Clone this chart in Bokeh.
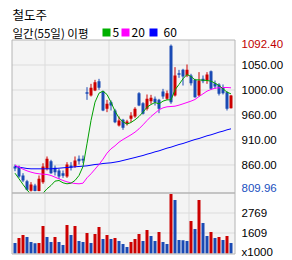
import numpy as np
from bokeh.plotting import figure
from bokeh.models import Range1d, ColumnDataSource
from bokeh.core.properties import value
from bokeh.embed import file_html
from bokeh.resources import INLINE

# ---------------- data ----------------
title_text = "철도주"
legend_prefix = "일간(55일) 이평"
ma_names = ["5", "20", "60"]

opens = [858.0, 856.8, 840.8, 829.9, 811.5, 821.6, 811.2, 828.0, 853.6, 868.3,
         855.5, 850.4, 845.2, 838.8, 859.9, 858.0, 872.8, 872.8, 1000.8, 994.4,
         1004.0, 1022.0, 1002.8, 968.8, 981.6, 965.6, 936.8, 947.7, 940.0, 949.6,
         954.1, 998.9, 979.7, 968.8, 983.6, 988.0, 986.1, 1002.1, 988.0, 1090.0,
         994.4, 1037.3, 1043.7, 1032.9, 1032.9, 1024.5, 994.4, 1026.4, 1023.2, 1041.2,
         1018.1, 1015.6, 1010.4, 1000.8, 970.1]
highs = [861.9, 859.9, 845.2, 832.4, 828.0, 824.8, 840.8, 864.4, 877.3, 870.9,
         859.9, 853.6, 850.4, 866.4, 866.4, 877.3, 879.2, 879.2, 1010.4, 1016.8,
         1024.5, 1026.4, 1004.0, 986.1, 984.8, 968.8, 954.1, 949.6, 947.7, 962.4,
         972.0, 1000.8, 981.6, 996.4, 995.7, 992.5, 988.0, 1007.2, 1004.0, 1092.4,
         1048.9, 1043.7, 1045.7, 1054.0, 1036.1, 1026.4, 1039.3, 1032.9, 1039.3, 1042.5,
         1023.2, 1018.1, 1015.6, 1002.8, 995.5]
lows = [849.1, 836.3, 828.0, 812.0, 809.96, 810.3, 810.5, 824.8, 850.4, 844.0,
        840.8, 834.4, 836.3, 836.3, 850.4, 855.5, 861.9, 864.4, 986.1, 992.5,
        1002.8, 1005.3, 964.3, 962.4, 965.6, 941.3, 934.9, 928.5, 936.8, 943.2,
        951.5, 973.9, 957.9, 965.6, 978.4, 975.2, 960.5, 988.0, 986.1, 978.4,
        992.5, 1028.4, 1013.6, 1029.7, 1013.6, 990.0, 992.5, 1018.1, 1016.8, 1005.3,
        1007.2, 994.4, 996.4, 965.6, 969.5]
closes = [854.2, 838.8, 831.2, 813.2, 823.5, 811.0, 834.4, 858.0, 872.8, 845.2,
          847.2, 838.8, 840.1, 861.9, 855.5, 869.6, 868.3, 869.6, 997.6, 1009.2,
          1020.0, 1009.2, 965.6, 978.4, 975.2, 943.2, 946.4, 932.3, 944.5, 956.0,
          968.8, 975.2, 959.2, 988.0, 990.0, 981.6, 968.8, 992.5, 998.9, 981.6,
          1032.9, 1034.1, 1030.9, 1043.7, 1018.1, 991.2, 1023.2, 1022.0, 1034.8, 1007.2,
          1011.7, 997.6, 998.9, 968.8, 994.4]
volumes = [1029, 1319, 1493, 1377, 1087, 1015, 1035, 2015, 1377, 1087,
           1377, 1087, 913, 2073, 1493, 2015, 1145, 1087, 1609, 1029,
           1551, 1957, 1261, 1493, 1261, 1319, 1145, 971, 797, 1087,
           1261, 1551, 1145, 1783, 1435, 1145, 1667, 1087, 971, 3871,
           3523, 1203, 1195, 1145, 2305, 1841, 3523, 2189, 1435, 1667,
           1319, 1377, 1203, 1435, 1029]
ma5 = [845.2, 834.4, 823.5, 813.2, 804.3, 800.4, 801.7, 806.8, 815.2, 821.6,
       829.9, 831.2, 826.7, 824.8, 826.0, 831.2, 840.8, 858.1, 901.6, 946.4,
       981.6, 998.9, 1002.8, 996.4, 981.6, 964.3, 951.5, 943.9, 939.4, 942.6,
       947.7, 954.1, 962.4, 972.0, 977.1, 981.0, 978.4, 983.6, 986.1, 986.1,
       1005.3, 1015.6, 1026.5, 1034.8, 1030.9, 1024.5, 1024.5, 1023.9, 1023.2, 1022.0,
       1018.1, 1013.6, 1007.2, 1000.8, 997.6]
ma20 = [860.6, 856.8, 852.9, 849.7, 847.2, 845.2, 844.0, 843.3, 842.7, 840.8,
        837.6, 834.4, 831.2, 828.6, 826.7, 825.4, 824.8, 826.0, 836.3, 844.0,
        852.9, 861.9, 872.1, 883.7, 892.0, 897.8, 904.8, 909.9, 914.4, 918.9,
        924.0, 930.4, 938.1, 946.4, 954.1, 960.5, 966.9, 970.7, 972.7, 973.3,
        973.9, 975.9, 978.4, 981.0, 983.6, 986.8, 992.5, 997.6, 1002.8, 1006.0,
        1008.5, 1009.2, 1009.8, 1009.8, 1009.2]
ma60 = [858.1, 856.8, 855.5, 854.2, 853.6, 853.6, 853.6, 853.6, 853.6, 853.6,
        854.2, 854.8, 855.5, 856.1, 856.8, 857.4, 858.1, 858.7, 859.3, 860.6,
        861.9, 862.5, 863.8, 864.5, 865.1, 866.4, 867.7, 869.6, 871.5, 873.4,
        875.3, 877.3, 879.2, 881.7, 883.7, 886.2, 888.1, 890.7, 893.3, 895.2,
        897.8, 900.3, 902.2, 904.8, 907.4, 909.9, 911.8, 914.4, 917.0, 918.9,
        921.4, 924.0, 925.9, 928.5, 930.4]
price_grid = [1053.0, 1005.0, 957.0, 909.0, 861.0]
price_tick_labels = ["1050.00", "1000.00", "960.00", "910.00", "860.00"]
volume_ticks = [2769, 1609]
volume_unit = "x1000"
month_breaks = [7.5, 23.5, 43.5]

# ---------------- layout constants (page pixels) ----------------
RED = "#cc0000"
BLUE = "#1a4ab4"
GRID = "#dcdcdc"
BG = "#f4f4f4"
OUTLINE = "#b4b4b4"
W, H = 292, 260
XPX = 4.0                       # pixels per candle slot
X_PAGE0 = -0.875 - 11 / XPX     # data x at page x = 0
P_TOP, PPX = 1102.0, 1.92092    # price at page y = 39, price per pixel
V_REF, V_REF_PY, VPX = 2769.0, 212.5, 58.0

def px_x(px):
    return X_PAGE0 + px / XPX

def px_price(py):
    return P_TOP - (py - 39) * PPX

def px_vol(py):
    return V_REF - (py - V_REF_PY) * VPX

PL, PR = px_x(11.5), px_x(234.5)
PT, PB = 39.5, 192.5
VB = 253.5

n = len(closes)
xs = np.arange(n)
o = np.array(opens); c = np.array(closes)
cand_col = [RED if cc >= oo else BLUE for oo, cc in zip(opens, closes)]
src = ColumnDataSource(dict(x=xs, h=highs, l=lows, top=np.maximum(o, c), bot=np.minimum(o, c),
                            col=cand_col))
vcol = [BLUE] + [RED if volumes[i] > volumes[i - 1] else BLUE for i in range(1, n)]
vsrc = ColumnDataSource(dict(x=xs, v=volumes, col=vcol))

p = figure(width=W, height=H, x_range=Range1d(px_x(0), px_x(W)),
           y_range=Range1d(px_price(H), px_price(0)),
           x_axis_location=None, y_axis_location=None, toolbar_location=None,
           output_backend="svg", min_border=0, outline_line_color=None,
           background_fill_color="white", border_fill_color="white")
p.extra_y_ranges = {"vol": Range1d(px_vol(H), px_vol(0))}
p.grid.visible = False

# price panel
p.quad(left=PL, right=PR, top=px_price(PT), bottom=px_price(PB), fill_color=BG, line_color=None)
p.segment(x0=[PL] * len(price_grid), x1=[PR] * len(price_grid), y0=price_grid, y1=price_grid,
          line_color=GRID, line_width=1)
p.segment(x0=month_breaks, x1=month_breaks, y0=px_price(PT), y1=px_price(PB),
          line_color=GRID, line_width=1)
p.segment(x0="x", y0="h", x1="x", y1="l", color="col", line_width=1, source=src)
p.vbar(x="x", width=0.75, top="top", bottom="bot", fill_color="col", line_color=None, source=src)
p.line(xs, ma60, color="#0000ff", line_width=1)
p.line(xs, ma20, color="#ff00ff", line_width=1)
p.line(xs, ma5, color="#00a000", line_width=1)

# volume panel (drawn over anything that spills below the price panel)
p.quad(left=PL, right=PR, top=px_vol(PB), bottom=px_vol(VB), fill_color=BG, line_color=None,
       y_range_name="vol")
p.quad(left=PL - 0.5, right=PL - 0.01, top=px_vol(PB), bottom=px_vol(VB), fill_color="white",
       line_color=None, y_range_name="vol")
p.segment(x0=[PL] * len(volume_ticks), x1=[PR] * len(volume_ticks), y0=volume_ticks,
          y1=volume_ticks, line_color=GRID, line_width=1, y_range_name="vol")
p.segment(x0=month_breaks, x1=month_breaks, y0=px_vol(PB), y1=px_vol(VB),
          line_color=GRID, line_width=1, y_range_name="vol")
p.vbar(x="x", width=0.75, top="v", bottom=px_vol(VB - 0.5), fill_color="col", line_color=None,
       source=vsrc, y_range_name="vol")

# outlines
p.quad(left=PL, right=PR, top=px_price(PT), bottom=px_price(PB), fill_color=None,
       line_color=OUTLINE, line_width=1)
p.quad(left=PL, right=PR, top=px_vol(PB), bottom=px_vol(VB), fill_color=None,
       line_color=OUTLINE, line_width=1, y_range_name="vol")

# right-side labels
RF = value("Liberation Sans")
RS = value("11.5px")
lx = px_x(241)
p.text(x=[lx], y=[max(highs)], text=["%.2f" % max(highs)], text_color="#c00000",
       text_font=RF, text_font_size=RS, text_baseline="middle", text_align="left")
p.text(x=[lx] * len(price_grid), y=price_grid, text=price_tick_labels, text_color="black",
       text_font=RF, text_font_size=RS, text_baseline="middle", text_align="left")
p.text(x=[lx], y=[min(lows)], text=["%.2f" % min(lows)], text_color="#2050c0",
       text_font=RF, text_font_size=RS, text_baseline="bottom", text_align="left")
p.text(x=[lx] * len(volume_ticks), y=volume_ticks, text=[str(t) for t in volume_ticks],
       text_color="black", text_font=RF, text_font_size=RS, text_baseline="middle",
       text_align="left", y_range_name="vol")
p.text(x=[lx], y=[px_vol(251)], text=[volume_unit], text_color="black", text_font=RF,
       text_font_size=RS, text_baseline="middle", text_align="left", y_range_name="vol")

# header
KF = value("Noto Sans CJK KR")
p.text(x=[px_x(12)], y=[px_price(14)], text=[title_text], text_font=KF,
       text_font_size=value("12.5px"), text_baseline="middle", text_color="black")
p.text(x=[px_x(12)], y=[px_price(32)], text=[legend_prefix], text_font=KF,
       text_font_size=value("11.5px"), text_baseline="middle", text_color="black")
sq_px = [102, 121, 149]
sq_col = ["#00b000", "#ff00ff", "#0000ff"]
num_px = [112, 131, 163]
p.quad(left=[px_x(s) for s in sq_px], right=[px_x(s + 8) for s in sq_px],
       top=[px_price(28)] * 3, bottom=[px_price(36)] * 3, fill_color=sq_col, line_color=None)
p.text(x=[px_x(v) for v in num_px], y=[px_price(32)] * 3, text=ma_names, text_font=KF,
       text_font_size=value("12px"), text_baseline="middle", text_color="black")

open("out.html", "w").write(file_html(p, INLINE))
